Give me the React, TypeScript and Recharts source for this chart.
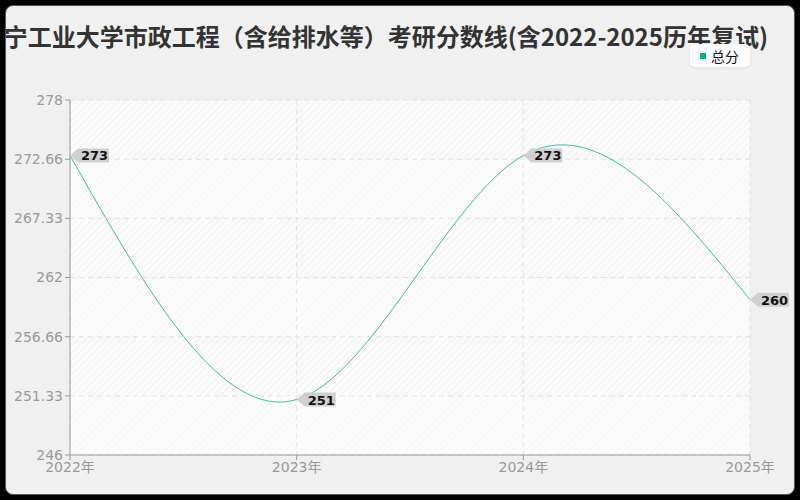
import { LineChart, Line, XAxis, YAxis, CartesianGrid } from "recharts";

const years = ["2022年", "2023年", "2024年", "2025年"];
const totalScores = [273, 251, 273, 260];
const yTicks = [246, 251.33, 256.66, 262, 267.33, 272.66, 278];

const TITLE = "辽宁工业大学市政工程（含给排水等）考研分数线(含2022-2025历年复试)";
const SERIES_NAME = "总分";
const LINE_COLOR = "#34c49b";
const FONT = '"DejaVu Sans", "Noto Sans CJK SC", sans-serif';
const CJK_FONT = '"Noto Sans CJK SC", sans-serif';

const data = years.map((year, i) => ({ year, score: totalScores[i] }));

function CalloutLabel(props: any) {
  const { x, y, value } = props;
  if (x == null || y == null) return null;
  const h = 7;
  const d = `M${x},${y} L${x + 8},${y - h} L${x + 39},${y - h} L${x + 39},${y + h} L${x + 8},${y + h} Z`;
  return (
    <g>
      <path d={d} fill="#d0d0d0" />
      <text
        x={x + 11}
        y={y + 5}
        fontSize={13}
        fontWeight="bold"
        fontFamily={FONT}
        fill="#111"
      >
        {value}
      </text>
    </g>
  );
}

export default function App() {
  return (
    <div style={{ width: 800, height: 500, background: "#000", position: "relative" }}>
      <style>{`body{margin:0}`}</style>
      <div
        style={{
          position: "absolute",
          left: 5,
          top: 5,
          width: 788,
          height: 488,
          background: "#f0f0f0",
          border: "1px solid #555",
          borderRadius: 8,
          overflow: "hidden",
        }}
      >
        <div
          style={{
            position: "absolute",
            right: 26,
            top: 18,
            lineHeight: "24px",
            whiteSpace: "nowrap",
            fontFamily: CJK_FONT,
            fontWeight: "bold",
            fontSize: 24,
            color: "#333",
          }}
        >
          {TITLE}
        </div>
        <div
          style={{
            position: "absolute",
            left: 684,
            top: 38,
            width: 60,
            height: 23,
            background: "#fff",
            borderRadius: 5,
            boxShadow: "0 1px 3px rgba(0,0,0,0.08)",
            display: "flex",
            alignItems: "center",
            fontFamily: CJK_FONT,
            fontSize: 14,
            color: "#111",
          }}
        >
          <span
            style={{
              display: "inline-block",
              width: 6,
              height: 6,
              background: "#00b386",
              marginLeft: 10,
              marginRight: 5,
            }}
          />
          {SERIES_NAME}
        </div>
        <div style={{ position: "absolute", left: -6, top: -6 }}>
          <LineChart
            width={800}
            height={500}
            data={data}
            margin={{ top: 100, right: 50, left: 0, bottom: 0 }}
          >
            <defs>
              <pattern id="hatchA" width="5" height="5" patternUnits="userSpaceOnUse" patternTransform="rotate(45)">
                <rect width="5" height="5" fill="#fbfbfb" />
                <line x1="0" y1="0" x2="0" y2="5" stroke="#ebebeb" strokeWidth="1.2" />
              </pattern>
              <pattern id="hatchB" width="5" height="5" patternUnits="userSpaceOnUse" patternTransform="rotate(45)">
                <rect width="5" height="5" fill="#fbfbfb" />
                <line x1="0" y1="0" x2="0" y2="5" stroke="#f3f3f3" strokeWidth="1.2" />
              </pattern>
            </defs>
            <CartesianGrid
              stroke="#e2e2e2"
              strokeDasharray="5 4"
              horizontalFill={["url(#hatchA)", "url(#hatchB)"]}
              fillOpacity={1}
            />
            <XAxis
              dataKey="year"
              height={45}
              axisLine={{ stroke: "#999" }}
              tickLine={{ stroke: "#999" }}
              tickSize={5}
              tick={{ fill: "#999", fontSize: 14, fontFamily: FONT }}
              interval={0}
            />
            <YAxis
              type="number"
              domain={[246, 278]}
              ticks={yTicks}
              interval={0}
              width={70}
              axisLine={{ stroke: "#999" }}
              tickLine={{ stroke: "#999" }}
              tickSize={5}
              tick={{ fill: "#999", fontSize: 14, fontFamily: FONT }}
            />
            <Line
              type="natural"
              dataKey="score"
              name={SERIES_NAME}
              stroke={LINE_COLOR}
              strokeWidth={1}
              dot={false}
              activeDot={false}
              label={<CalloutLabel />}
              isAnimationActive={false}
            />
          </LineChart>
        </div>
      </div>
    </div>
  );
}
